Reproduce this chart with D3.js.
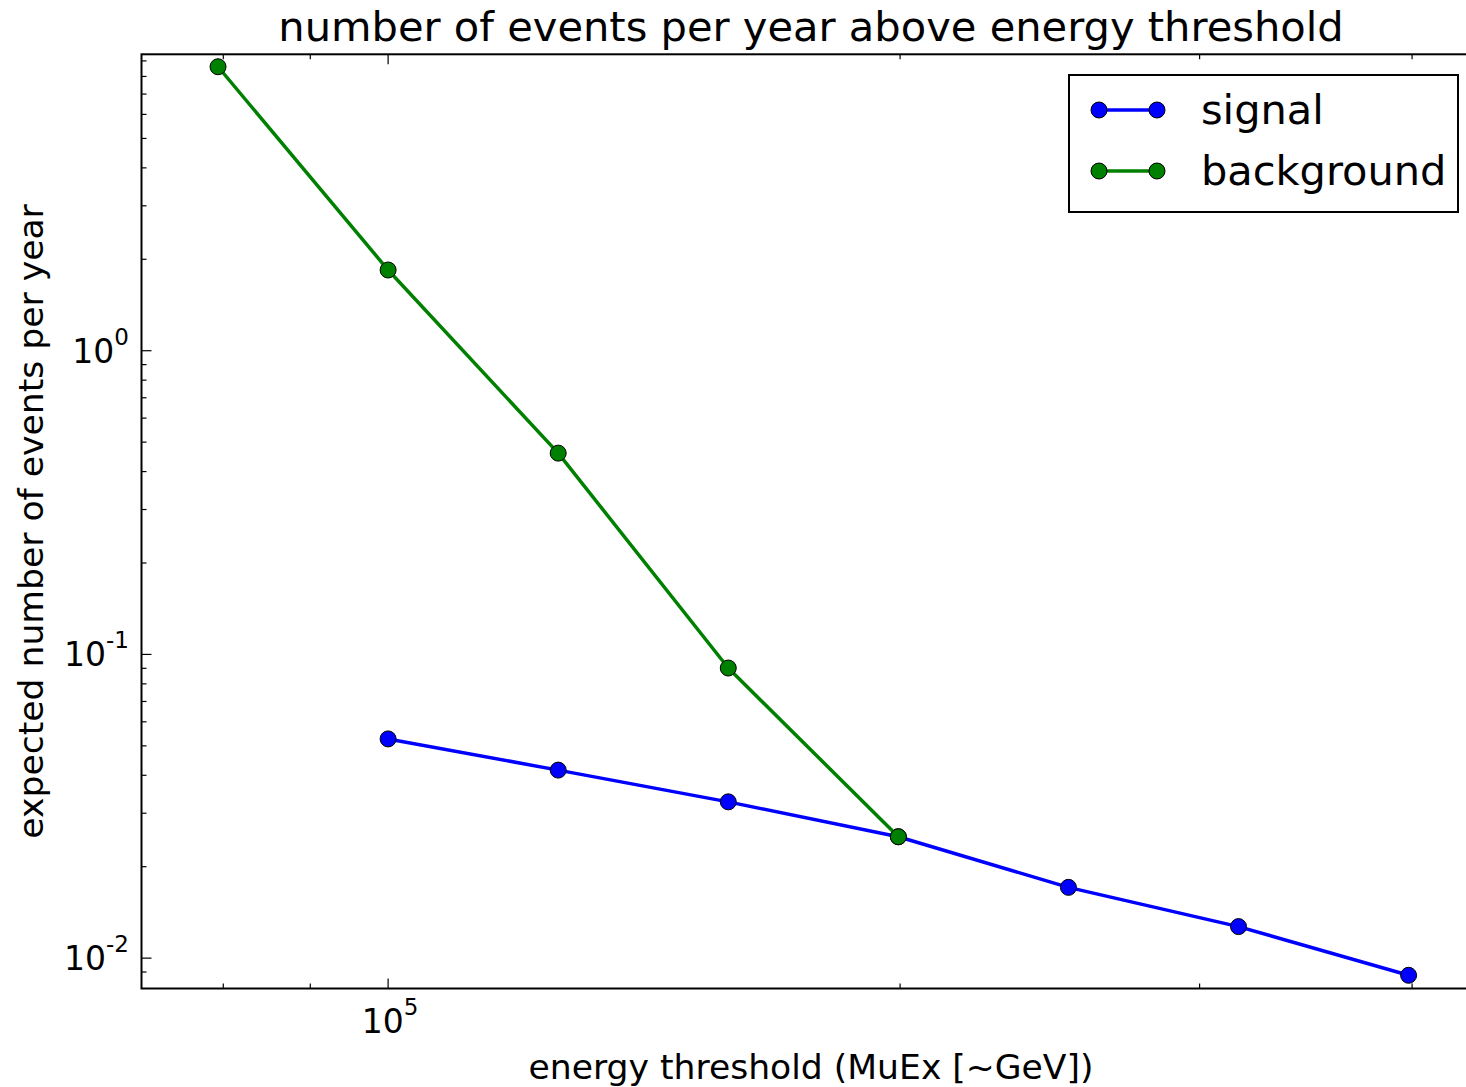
<!DOCTYPE html>
<html>
<head>
<meta charset="utf-8">
<script src="https://cdn.jsdelivr.net/npm/d3@7"></script>
<style>
  html, body { margin: 0; padding: 0; background: #fff; }
  svg { display: block; font-family: "DejaVu Sans", sans-serif; }
</style>
</head>
<body>
<svg id="chart" width="1466" height="1087"></svg>
<script>
// Energy thresholds (MuEx, ~GeV)
const thresholds = [79433, 100000, 125893, 158489, 199526, 251189, 316228, 398107];
// Expected events per year above each threshold
const signalThresholds = [100000, 125893, 158489, 199526, 251189, 316228, 398107];
const signalValues = [0.0527, 0.0416, 0.0327, 0.0251, 0.0171, 0.0127, 0.00878];
const backgroundThresholds = [79433, 100000, 125893, 158489, 199526];
const backgroundValues = [8.61, 1.844, 0.460, 0.0902, 0.0251];

const xMajorTicks = [1e5];
const xMinorTicks = [8e4, 9e4, 2e5, 3e5, 4e5, 5e5];
const yMajorTicks = [1e-2, 1e-1, 1e0];
const yMinorTicks = [];
for (const dec of [1e-3, 1e-2, 1e-1, 1e0]) {
  for (let m = 2; m <= 9; m++) yMinorTicks.push(m * dec);
}
const xTickLabels = { 100000: "5" };
const yTickLabels = { 0.01: "-2", 0.1: "-1", 1: "0" };

const series = [
  { name: "signal", color: "#0000ff", xs: signalThresholds, ys: signalValues },
  { name: "background", color: "#008000", xs: backgroundThresholds, ys: backgroundValues }
];

const svg = d3.select("#chart");
const plotLeft = 141.5, plotTop = 54.3, plotBottom = 988.5;
const decadeX = 1700.8;
const plotRight = plotLeft + 0.785 * decadeX;

const x = d3.scaleLog().domain([Math.pow(10, 4.855), Math.pow(10, 5.64)]).range([plotLeft, plotRight]);
const y = d3.scaleLog().domain([Math.pow(10, -2.1), Math.pow(10, 0.976)]).range([plotBottom, plotTop]);

svg.append("defs").append("clipPath").attr("id", "plotclip")
  .append("rect").attr("x", plotLeft).attr("y", plotTop)
  .attr("width", plotRight - plotLeft).attr("height", plotBottom - plotTop);

// ticks (inward, on all four sides)
const tickG = svg.append("g").attr("stroke", "#000").attr("stroke-width", 1.2);
function inRangeX(v) { const p = x(v); return p > plotLeft + 1 && p < plotRight - 1; }
function inRangeY(v) { const p = y(v); return p > plotTop + 1 && p < plotBottom - 1; }
for (const [ticks, len] of [[xMajorTicks, 10], [xMinorTicks, 5]]) {
  ticks.filter(inRangeX).forEach(v => {
    tickG.append("line").attr("x1", x(v)).attr("x2", x(v)).attr("y1", plotBottom).attr("y2", plotBottom - len);
    tickG.append("line").attr("x1", x(v)).attr("x2", x(v)).attr("y1", plotTop).attr("y2", plotTop + len);
  });
}
for (const [ticks, len] of [[yMajorTicks, 10], [yMinorTicks, 5]]) {
  ticks.filter(inRangeY).forEach(v => {
    tickG.append("line").attr("y1", y(v)).attr("y2", y(v)).attr("x1", plotLeft).attr("x2", plotLeft + len);
    tickG.append("line").attr("y1", y(v)).attr("y2", y(v)).attr("x1", plotRight).attr("x2", plotRight - len);
  });
}

// data lines and markers
const plotG = svg.append("g").attr("clip-path", "url(#plotclip)");
const line = d3.line().x(d => x(d[0])).y(d => y(d[1]));
series.forEach(s => {
  const pts = s.xs.map((v, i) => [v, s.ys[i]]);
  plotG.append("path").attr("d", line(pts)).attr("fill", "none")
    .attr("stroke", s.color).attr("stroke-width", 3.5).attr("stroke-linejoin", "round");
  plotG.selectAll(null).data(pts).enter().append("circle")
    .attr("cx", d => x(d[0])).attr("cy", d => y(d[1])).attr("r", 8)
    .attr("fill", s.color).attr("stroke", "#000").attr("stroke-width", 1);
});

// frame
svg.append("rect").attr("x", plotLeft).attr("y", plotTop)
  .attr("width", plotRight - plotLeft).attr("height", plotBottom - plotTop)
  .attr("fill", "none").attr("stroke", "#000").attr("stroke-width", 2);

// tick labels: 10 with superscript exponent
xMajorTicks.forEach(v => {
  const t = svg.append("text").attr("x", x(v) + 2).attr("y", 1033).attr("text-anchor", "middle")
    .attr("font-size", 33);
  t.append("tspan").text("10");
  t.append("tspan").attr("font-size", 23).attr("dy", -18).text(xTickLabels[v]);
});
yMajorTicks.forEach(v => {
  const t = svg.append("text").attr("x", 129).attr("y", y(v) + 12).attr("text-anchor", "end")
    .attr("font-size", 33);
  t.append("tspan").text("10");
  t.append("tspan").attr("font-size", 23).attr("dy", -18).text(yTickLabels[v]);
});

// title and axis labels
svg.append("text").attr("x", 811).attr("y", 41).attr("text-anchor", "middle")
  .attr("font-size", 41.6).text("number of events per year above energy threshold");
svg.append("text").attr("x", 811).attr("y", 1079).attr("text-anchor", "middle")
  .attr("font-size", 34.6).text("energy threshold (MuEx [~GeV])");
svg.append("text").attr("transform", `translate(43,${(plotTop + plotBottom) / 2}) rotate(-90)`)
  .attr("text-anchor", "middle").attr("font-size", 34.6).text("expected number of events per year");

// legend
const lg = svg.append("g");
lg.append("rect").attr("x", 1069).attr("y", 75).attr("width", 389).attr("height", 137)
  .attr("fill", "#fff").attr("stroke", "#000").attr("stroke-width", 2);
series.forEach((s, i) => {
  const ly = 110 + i * 61;
  lg.append("line").attr("x1", 1099).attr("x2", 1157).attr("y1", ly).attr("y2", ly)
    .attr("stroke", s.color).attr("stroke-width", 3.5);
  [1099, 1157].forEach(px => lg.append("circle").attr("cx", px).attr("cy", ly).attr("r", 8)
    .attr("fill", s.color).attr("stroke", "#000").attr("stroke-width", 1));
  lg.append("text").attr("x", 1201).attr("y", ly + 14).attr("font-size", 41.5).text(s.name);
});
</script>
</body>
</html>
